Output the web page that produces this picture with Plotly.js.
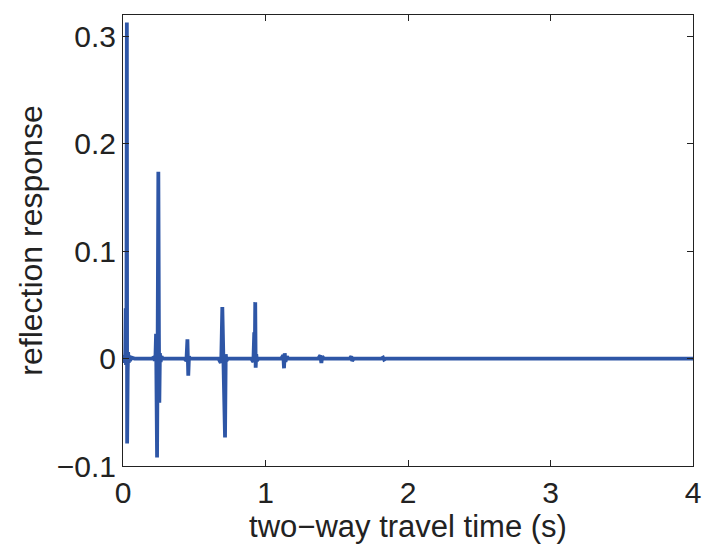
<!DOCTYPE html>
<html>
<head>
<meta charset="utf-8">
<script src="https://cdn.plot.ly/plotly-3.0.1.min.js"></script>
<style>html,body{margin:0;padding:0;background:#fff;}#chart{width:704px;height:547px;}</style>
</head>
<body>
<div id="chart"></div>
<script>
// two-way travel time (s)
const travelTime = [
  0.000, 0.008, 0.012, 0.016, 0.019, 0.021, 0.024, 0.027, 0.029, 0.031, 0.033, 0.036, 0.040, 0.045, 0.050, 0.060, 0.080,
  0.200, 0.215, 0.222, 0.228, 0.232, 0.234, 0.239, 0.243, 0.248, 0.252, 0.255, 0.259, 0.264, 0.270, 0.280,
  0.430, 0.445, 0.452, 0.458, 0.463, 0.470,
  0.670, 0.686, 0.690, 0.697, 0.702, 0.706, 0.716, 0.721, 0.726, 0.735,
  0.900, 0.915, 0.921, 0.925, 0.928, 0.931, 0.935, 0.940, 0.950,
  1.110, 1.125, 1.130, 1.135, 1.140, 1.150, 1.160,
  1.370, 1.385, 1.392, 1.398, 1.410,
  1.590, 1.602, 1.608, 1.620,
  1.810, 1.825, 1.832, 1.845,
  4.000
];
// reflection response
const reflection = [
  0.000, 0.002, -0.004, 0.006, 0.047, -0.006, 0.010, 0.313, -0.079, 0.020, -0.012, 0.006, -0.004, 0.003, -0.002, 0.001, 0.000,
  0.000, 0.001, -0.002, 0.003, 0.023, -0.005, -0.092, 0.010, 0.174, 0.023, -0.041, 0.005, -0.003, 0.002, 0.000,
  0.000, -0.002, 0.018, -0.016, 0.002, 0.000,
  0.000, -0.004, 0.002, 0.048, 0.004, 0.014, -0.0735, 0.004, -0.002, 0.000,
  0.000, -0.003, 0.0246, 0.003, 0.0526, -0.0085, 0.004, -0.002, 0.000,
  0.000, 0.003, -0.009, 0.005, -0.003, 0.002, 0.000,
  0.000, 0.003, -0.004, 0.002, 0.000,
  0.000, 0.002, -0.002, 0.000,
  0.000, 0.001, -0.001, 0.000,
  0.000
];
const xTicks = [0, 1, 2, 3, 4];
const yTicks = [-0.1, 0, 0.1, 0.2, 0.3];

const fontFam = 'Liberation Sans, Arial, Helvetica, sans-serif';
Plotly.newPlot('chart', [{
  x: travelTime, y: reflection, type: 'scatter', mode: 'lines',
  line: {color: '#2E56A6', width: 3.8}, hoverinfo: 'skip'
}], {
  width: 704, height: 547,
  margin: {l: 123, r: 11, t: 15, b: 81},
  paper_bgcolor: '#fff', plot_bgcolor: '#fff',
  showlegend: false,
  font: {family: fontFam, color: '#222', size: 30},
  xaxis: {
    range: [0, 4], tickvals: xTicks, ticktext: xTicks.map(String),
    ticks: 'inside', ticklen: 6, tickcolor: '#222', tickwidth: 1,
    showline: true, linecolor: '#222', linewidth: 1, mirror: 'ticks',
    showgrid: false, zeroline: false,
    tickfont: {size: 30, family: fontFam, color: '#222'},
    title: {text: 'two\u2212way travel time (s)', font: {size: 31, family: fontFam, color: '#222'}, standoff: 0}
  },
  yaxis: {
    range: [-0.1, 0.32], tickvals: yTicks, ticktext: ['\u22120.1', '0', '0.1', '0.2', '0.3'],
    ticks: 'inside', ticklen: 6, tickcolor: '#222', tickwidth: 1,
    showline: true, linecolor: '#222', linewidth: 1, mirror: 'ticks',
    showgrid: false, zeroline: false,
    tickfont: {size: 30, family: fontFam, color: '#222'},
    title: {text: 'reflection response', font: {size: 32, family: fontFam, color: '#222'}, standoff: 4}
  }
}, {displayModeBar: false, staticPlot: true});
</script>
</body>
</html>
